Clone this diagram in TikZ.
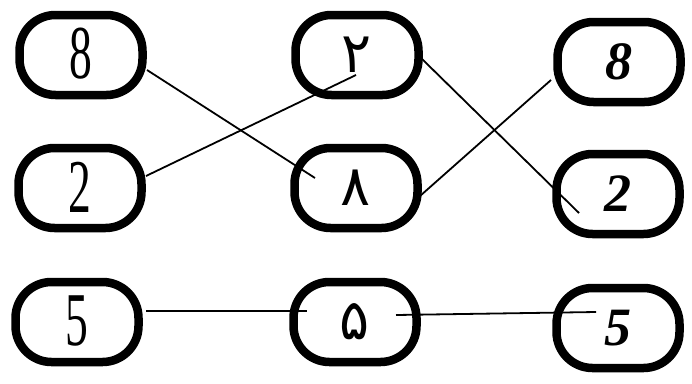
\documentclass[tikz,border=0pt]{standalone}
\usepackage{fontspec}
\newfontfamily\persfont[Script=Arabic]{DejaVu Sans}
\newfontfamily\bifont{Liberation Serif}
\usepackage{graphicx}
\begin{document}
\begin{tikzpicture}[x=1pt,y=-1pt,
  box/.style={draw=black, line width=8.5pt, rounded corners=36pt,
    minimum width=123pt, minimum height=80pt, inner sep=0pt},
  leftnum/.style={font=\bifont\fontsize{76}{76}\selectfont},
  midnum/.style={font=\persfont\fontsize{56}{56}\selectfont},
  rightnum/.style={font=\bifont\bfseries\itshape\fontsize{54}{54}\selectfont},
  link/.style={line width=1.8pt}]
\useasboundingbox (0,0) rectangle (692,383);
% boxes
\node[box] (L8) at (81,55) {};
\node[box] (L2) at (80,188) {};
\node[box] (L5) at (77,322) {};
\node[box] (M2) at (357,55) {};
\node[box] (M8) at (356,188) {};
\node[box] (M5) at (355,322) {};
\node[box] (R8) at (619,62) {};
\node[box] (R2) at (618,194) {};
\node[box] (R5) at (618,328) {};
% texts
\node[leftnum] (tL8) at ([yshift=1pt]L8.center) {\scalebox{0.6}[1]{8}};
\node[leftnum] (tL2) at ([yshift=1pt]L2.center) {\scalebox{0.6}[1]{2}};
\node[leftnum] (tL5) at ([yshift=1pt]L5.center) {\scalebox{0.6}[1]{5}};
\node[midnum] (tM2) at (M2.center) {۲};
\node[midnum] (tM8) at (M8.center) {۸};
\node[midnum] (tM5) at (M5.center) {۵};
\node[rightnum] (tR8) at (R8.center) {8};
\node[rightnum] (tR2) at (R2.center) {2};
\node[rightnum] (tR5) at (R5.center) {5};
% connector end points
\coordinate (a1) at (147,70);  \coordinate (b1) at (315,178);
\coordinate (a2) at (146,176); \coordinate (b2) at (356,75);
\coordinate (a3) at (421,58);  \coordinate (b3) at (579,213);
\coordinate (a4) at (420,196); \coordinate (b4) at (551,80);
\coordinate (a5) at (146,311); \coordinate (b5) at (307,311);
\coordinate (a6) at (396,315); \coordinate (b6) at (596,312);
\draw[link] (a1) -- (b1);
\draw[link] (a2) -- (b2);
\draw[link] (a3) -- (b3);
\draw[link] (a4) -- (b4);
\draw[link] (a5) -- (b5);
\draw[link] (a6) -- (b6);
\end{tikzpicture}
\end{document}
